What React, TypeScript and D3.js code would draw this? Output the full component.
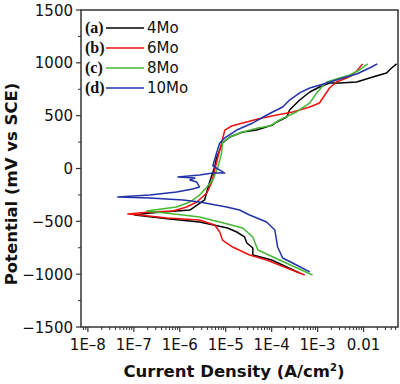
import React, { useEffect } from "react";
import * as d3 from "d3";

// [log10(current density A/cm2), potential mV vs SCE]
const series4Mo: [number, number][] = [
  [-3.39, -989], [-4.0, -866], [-4.41, -819], [-4.41, -752], [-4.54, -705], [-4.59, -648],
  [-4.76, -601], [-4.96, -563], [-5.57, -506], [-6.22, -478], [-6.98, -440], [-6.65, -421],
  [-5.78, -393], [-5.46, -298], [-5.35, -128], [-5.3, -62], [-5.24, 14], [-5.2, 99],
  [-5.13, 175], [-5.07, 241], [-4.91, 298], [-4.63, 345], [-4.33, 364], [-3.98, 412],
  [-3.89, 440], [-3.67, 487], [-3.61, 554], [-3.39, 648], [-3.17, 724], [-2.96, 771],
  [-2.74, 809], [-2.52, 809], [-2.15, 819], [-1.8, 866], [-1.5, 904], [-1.39, 951], [-1.28, 990],
];
const series6Mo: [number, number][] = [
  [-3.28, -1008], [-4.11, -866], [-4.48, -819], [-4.85, -743], [-5.07, -677], [-5.13, -601],
  [-5.24, -535], [-5.57, -487], [-6.28, -468], [-6.87, -440], [-7.13, -431], [-6.65, -412],
  [-6.15, -402], [-5.85, -364], [-5.63, -317], [-5.41, -232], [-5.3, -128], [-5.24, -14],
  [-5.17, 109], [-5.09, 241], [-5.02, 364], [-4.87, 402], [-4.63, 431], [-4.3, 468],
  [-3.89, 506], [-3.54, 535], [-3.17, 582], [-2.96, 620], [-2.74, 762], [-2.59, 819],
  [-2.37, 856], [-2.24, 885], [-2.13, 932], [-2.02, 990],
];
const series8Mo: [number, number][] = [
  [-3.11, -1008], [-3.83, -866], [-4.3, -771], [-4.41, -648], [-4.63, -563], [-5.13, -506],
  [-5.57, -459], [-5.93, -440], [-6.72, -402], [-6.07, -364], [-5.78, -317], [-5.57, -251],
  [-5.41, -175], [-5.28, -109], [-5.17, 14], [-5.09, 147], [-5.07, 241], [-4.91, 298],
  [-4.63, 345], [-4.3, 383], [-4.04, 402], [-3.83, 459], [-3.46, 535], [-3.17, 620],
  [-3.02, 715], [-2.91, 771], [-2.8, 819], [-2.52, 856], [-2.3, 885], [-2.09, 932], [-1.91, 990],
];
const series10Mo: [number, number][] = [
  [-3.17, -979], [-3.46, -913], [-3.76, -847], [-3.87, -743], [-3.93, -582], [-4.11, -506],
  [-4.48, -440], [-4.7, -393], [-4.98, -364], [-5.57, -317], [-5.93, -298], [-6.65, -279],
  [-7.35, -270], [-6.65, -251], [-6.07, -222], [-5.72, -194], [-5.57, -175], [-5.63, -128],
  [-5.78, -109], [-5.67, -90], [-6.04, -80], [-5.57, -62], [-5.28, -43], [-5.02, -43],
  [-5.28, 24], [-5.2, 147], [-5.13, 241], [-5.02, 289], [-4.76, 364], [-4.41, 431],
  [-4.22, 478], [-3.98, 535], [-3.76, 582], [-3.61, 648], [-3.39, 715], [-3.17, 762],
  [-2.8, 809], [-2.52, 847], [-2.15, 894], [-1.87, 951], [-1.7, 990],
];

const seriesNames = ["4Mo", "6Mo", "8Mo", "10Mo"];
const seriesTags = ["(a)", "(b)", "(c)", "(d)"];
const seriesColors = ["#000000", "#ee1111", "#44b833", "#2233aa"];
const allSeries = [series4Mo, series6Mo, series8Mo, series10Mo];

const xTickValues = [1e-8, 1e-7, 1e-6, 1e-5, 1e-4, 1e-3, 1e-2];
const xTickLabels = ["1E\u20138", "1E\u20137", "1E\u20136", "1E\u20135", "1E\u20134", "1E\u20133", "0.01"];
const yTickValues = [-1500, -1000, -500, 0, 500, 1000, 1500];
const yDomain = [-1500, 1500];
const xDomainLog = [-8.15, -1.25];

export default function App() {
  useEffect(() => {
    document.body.style.margin = "0";
  }, []);

  const W = 400, H = 384;
  const L = 81, R = 398, T = 10, B = 327;
  const x = d3.scaleLog().domain([10 ** xDomainLog[0], 10 ** xDomainLog[1]]).range([L, R]);
  const y = d3.scaleLinear().domain(yDomain).range([B, T]);
  const line = d3
    .line<[number, number]>()
    .x((d) => x(10 ** d[0]))
    .y((d) => y(d[1]))
    .curve(d3.curveLinear);

  const minorX: number[] = [];
  for (let e = -9; e <= -1; e++) {
    for (let m = 2; m <= 9; m++) {
      const v = m * 10 ** e;
      if (v >= x.domain()[0] && v <= x.domain()[1]) minorX.push(v);
    }
  }
  const minorY = d3.range(-1250, 1500, 500);

  const axisColor = "#333";
  const font = "'DejaVu Sans', Verdana, sans-serif";

  return (
    <svg width={W} height={H} style={{ display: "block" }} fontFamily={font}>
      <rect x={0} y={0} width={W} height={H} fill="#fff" />
      <g>
        {allSeries.map((s, i) => (
          <path key={i} d={line(s) || ""} fill="none" stroke={seriesColors[i]} strokeWidth={1.5} strokeLinejoin="round" />
        ))}
      </g>
      <rect x={L} y={T} width={R - L} height={B - T} fill="none" stroke={axisColor} strokeWidth={1.5} />
      {xTickValues.map((v, i) => (
        <g key={"xt" + i}>
          <line x1={x(v)} x2={x(v)} y1={B} y2={B + 5} stroke={axisColor} strokeWidth={1.2} />
          <text x={x(v)} y={350} textAnchor="middle" fontSize={15} fill="#111">
            {xTickLabels[i]}
          </text>
        </g>
      ))}
      {minorX.map((v, i) => (
        <line key={"xm" + i} x1={x(v)} x2={x(v)} y1={B} y2={B + 3} stroke={axisColor} strokeWidth={1} />
      ))}
      {yTickValues.map((v, i) => (
        <g key={"yt" + i}>
          <line x1={L - 5} x2={L} y1={y(v)} y2={y(v)} stroke={axisColor} strokeWidth={1.2} />
          <text x={73} y={y(v) + 5.5} textAnchor="end" fontSize={15} fill="#111">
            {v < 0 ? "\u2212" + Math.abs(v) : String(v)}
          </text>
        </g>
      ))}
      {minorY.map((v, i) => (
        <line key={"ym" + i} x1={L - 3} x2={L} y1={y(v)} y2={y(v)} stroke={axisColor} strokeWidth={1} />
      ))}
      <text x={234} y={377} textAnchor="middle" fontSize={16.5} fontWeight="bold" fill="#111">
        Current Density (A/cm<tspan dy={-6} fontSize={10}>2</tspan><tspan dy={6}>)</tspan>
      </text>
      <text transform="translate(17,184) rotate(-90)" textAnchor="middle" fontSize={16.5} fontWeight="bold" fill="#111">
        Potential (mV vs SCE)
      </text>
      {seriesNames.map((n, i) => (
        <g key={"lg" + i}>
          <text x={85} y={33 + i * 20} fontFamily="'Liberation Serif', 'Times New Roman', serif" fontWeight="bold" fontSize={16} fill="#111">
            {seriesTags[i]}
          </text>
          <line x1={106} x2={144} y1={28 + i * 20} y2={28 + i * 20} stroke={seriesColors[i]} strokeWidth={1.5} />
          <text x={147} y={33 + i * 20} fontSize={15} fill="#111">
            {n}
          </text>
        </g>
      ))}
    </svg>
  );
}
